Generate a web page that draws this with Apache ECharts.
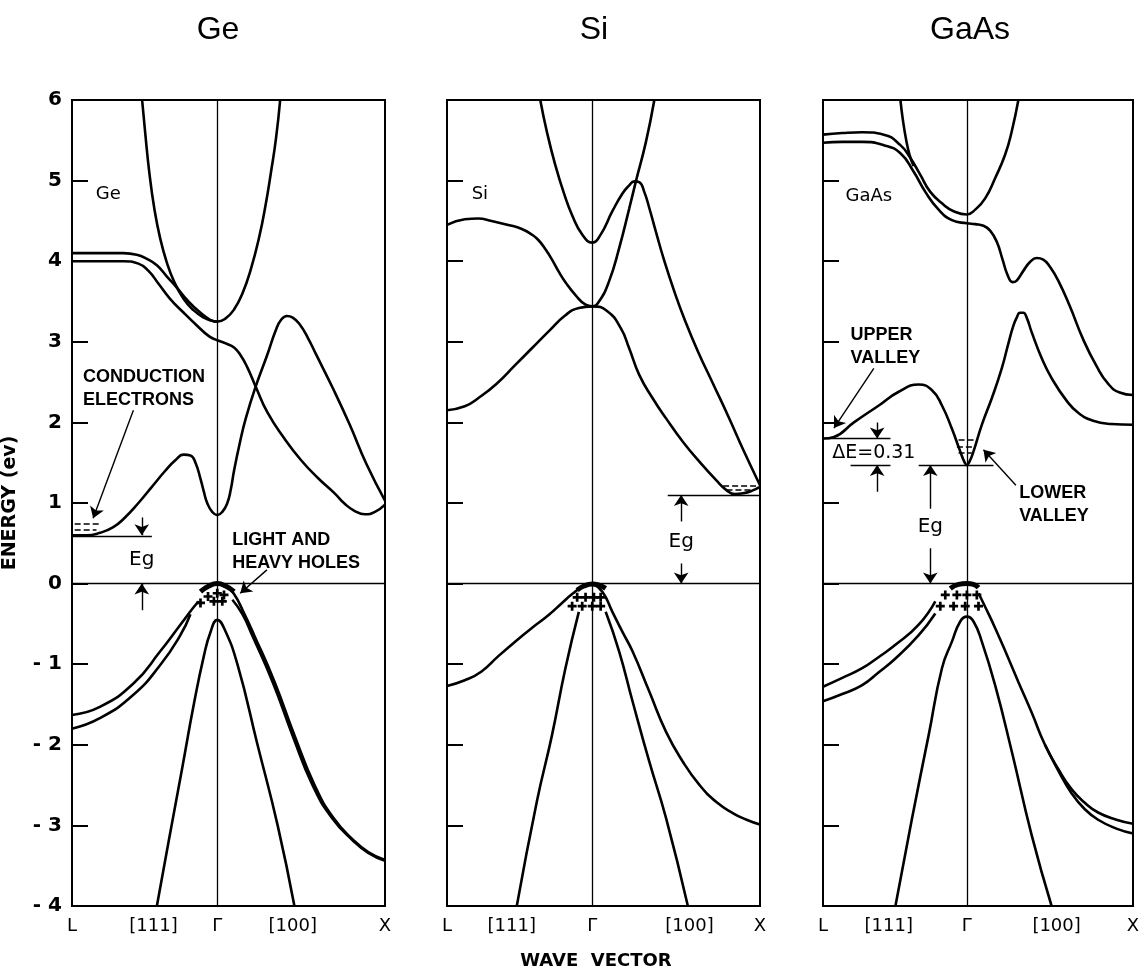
<!DOCTYPE html>
<html lang="en">
<head>
<meta charset="UTF-8">
<title>Ge Si GaAs band structure</title>
<style>html,body{margin:0;padding:0;background:#fff;}</style>
</head>
<body>
<div id="main" style="width:1146px;height:974px;"></div>
<script src="https://cdn.jsdelivr.net/npm/echarts@6/dist/echarts.min.js"></script>
<script>
// wave vector k: L = -0.866, Gamma = 0, X = 1 ; energy in eV
var panelNames = ['Ge', 'Si', 'GaAs'];
var kTickNames = ['L', '[111]', 'Γ', '[100]', 'X'];
var geTickK = [-0.866, -0.38, 0, 0.45, 1];
var siTickK = [-0.866, -0.48, 0, 0.58, 1];
var gaTickK = [-0.866, -0.47, 0, 0.54, 1];

// ---- Ge ----
var geUpper = [[-0.448,6],[-0.43,5.6],[-0.405,5.1],[-0.375,4.65],[-0.34,4.28],[-0.3,3.98],[-0.26,3.76],[-0.2,3.53],[-0.14,3.39],[-0.08,3.3],[-0.03,3.26],[0,3.25],[0.05,3.29],[0.1,3.4],[0.15,3.6],[0.2,3.9],[0.25,4.3],[0.29,4.72],[0.32,5.1],[0.35,5.52],[0.375,6]];
var geFlatHigh = [[-0.866,4.1],[-0.7,4.1],[-0.56,4.1],[-0.48,4.08],[-0.42,4.03],[-0.36,3.95],[-0.3,3.81],[-0.24,3.67],[-0.18,3.52],[-0.1,3.36],[-0.04,3.27],[0,3.25]];
var geFlatLow = [[-0.866,4.0],[-0.7,4.0],[-0.56,4.0],[-0.47,3.97],[-0.41,3.88],[-0.35,3.72],[-0.28,3.53],[-0.2,3.36],[-0.12,3.2],[-0.05,3.07],[0,3.02],[0.05,2.98],[0.1,2.93],[0.14,2.83],[0.18,2.68],[0.23,2.44],[0.3,2.12],[0.4,1.8],[0.5,1.53],[0.6,1.31],[0.7,1.12],[0.76,0.99],[0.82,0.9],[0.88,0.86],[0.94,0.89],[1.0,0.98]];
var geLowest = [[-0.866,0.6],[-0.78,0.6],[-0.7,0.63],[-0.62,0.7],[-0.55,0.82],[-0.47,1.0],[-0.39,1.2],[-0.31,1.4],[-0.25,1.53],[-0.2,1.6],[-0.16,1.59],[-0.13,1.5],[-0.1,1.3],[-0.08,1.14],[-0.06,1.0],[-0.03,0.89],[0,0.85],[0.03,0.89],[0.06,1.0],[0.08,1.16],[0.1,1.4],[0.135,1.75],[0.17,2.05],[0.23,2.45],[0.295,2.82],[0.35,3.15],[0.38,3.27],[0.415,3.32],[0.45,3.3],[0.49,3.22],[0.54,3.05],[0.59,2.84],[0.69,2.42],[0.79,1.97],[0.89,1.48],[1.0,1.03]];
var geVbLeftA = [[-0.866,-1.63],[-0.7,-1.53],[-0.5,-1.24],[-0.34,-0.84],[-0.22,-0.51],[-0.14,-0.29],[-0.11,-0.22]];
var geVbLeftB = [[-0.866,-1.8],[-0.7,-1.67],[-0.5,-1.38],[-0.34,-1.01],[-0.22,-0.64],[-0.16,-0.38]];
var geVbRightA = [[0,0],[0.05,-0.03],[0.1,-0.13],[0.16,-0.37],[0.22,-0.64],[0.34,-1.21],[0.46,-1.88],[0.58,-2.5],[0.69,-2.9],[0.81,-3.18],[0.9,-3.33],[1.0,-3.43]];
var geVbRightB = [[0.09,-0.2],[0.15,-0.38],[0.21,-0.65],[0.33,-1.22],[0.45,-1.89],[0.57,-2.51],[0.685,-2.91],[0.81,-3.19],[0.9,-3.34],[1.0,-3.44]];
var geSplitOff = [[-0.36,-4],[-0.29,-3.2],[-0.21,-2.3],[-0.14,-1.5],[-0.08,-0.9],[-0.04,-0.6],[0,-0.45],[0.04,-0.55],[0.12,-1],[0.24,-2],[0.36,-3],[0.46,-4]];
var geCap = [[-0.1,-0.1],[-0.05,-0.03],[0,0],[0.05,-0.03],[0.1,-0.1]];
var geHoles = [[-0.055,-0.16],[0,-0.12],[0.04,-0.14],[-0.02,-0.22],[0.03,-0.22],[-0.1,-0.24]];

// ---- Si ----
var siBandA = [[-0.31,6],[-0.27,5.6],[-0.22,5.19],[-0.17,4.85],[-0.12,4.57],[-0.06,4.33],[0,4.23],[0.05,4.33],[0.12,4.62],[0.18,4.84],[0.22,4.94],[0.25,4.99],[0.28,4.98],[0.31,4.86],[0.34,4.66],[0.38,4.36],[0.43,4.0],[0.49,3.62],[0.55,3.28],[0.63,2.88],[0.72,2.48],[0.81,2.08],[0.9,1.66],[1.0,1.22]];
var siBandB = [[-0.866,4.45],[-0.76,4.52],[-0.68,4.53],[-0.6,4.5],[-0.5,4.45],[-0.42,4.4],[-0.36,4.33],[-0.32,4.26],[-0.28,4.15],[-0.24,4.02],[-0.2,3.87],[-0.16,3.74],[-0.1,3.58],[-0.04,3.46],[0,3.44],[0.04,3.5],[0.1,3.75],[0.16,4.16],[0.22,4.65],[0.26,4.99],[0.32,5.48],[0.37,6]];
var siBandC = [[-0.866,2.15],[-0.76,2.2],[-0.68,2.3],[-0.57,2.48],[-0.46,2.71],[-0.36,2.92],[-0.26,3.13],[-0.16,3.33],[-0.08,3.42],[0,3.44],[0.09,3.38],[0.17,3.17],[0.22,2.92],[0.28,2.59],[0.36,2.3],[0.44,2.05],[0.54,1.76],[0.64,1.51],[0.74,1.28],[0.8,1.16],[0.85,1.11],[0.9,1.12],[0.95,1.15],[1.0,1.2]];
var siVbLeft = [[-0.866,-1.27],[-0.76,-1.2],[-0.66,-1.09],[-0.56,-0.9],[-0.46,-0.72],[-0.36,-0.55],[-0.26,-0.39],[-0.18,-0.24],[-0.12,-0.13],[-0.06,-0.04],[0,0]];
var siVbRight = [[0,0],[0.06,-0.1],[0.12,-0.35],[0.18,-0.6],[0.24,-0.84],[0.34,-1.34],[0.44,-1.84],[0.54,-2.21],[0.64,-2.5],[0.74,-2.71],[0.84,-2.85],[0.92,-2.93],[1.0,-2.99]];
var siLightLeft = [[-0.45,-4],[-0.33,-2.7],[-0.24,-1.88],[-0.16,-1.05],[-0.08,-0.35]];
var siLightRight = [[0.08,-0.35],[0.16,-0.84],[0.24,-1.46],[0.34,-2.21],[0.44,-2.91],[0.57,-4]];
var siCap = [[-0.09,-0.08],[-0.05,-0.03],[0,-0.005],[0.04,-0.02],[0.08,-0.06]];
var siHoles = [[-0.09,-0.17],[-0.04,-0.17],[0.01,-0.17],[0.05,-0.17],[-0.12,-0.28],[-0.06,-0.28],[0,-0.28],[0.05,-0.28]];

// ---- GaAs ----
var gaBand1 = [[-0.866,5.57],[-0.75,5.59],[-0.63,5.6],[-0.5,5.57],[-0.4,5.44],[-0.34,5.28],[-0.28,5.07],[-0.22,4.86],[-0.14,4.7],[-0.08,4.62],[0,4.58],[0.05,4.64],[0.11,4.78],[0.17,5.03],[0.23,5.32],[0.27,5.61],[0.31,6]];
var gaParabolaLeft = [[-0.40,6],[-0.385,5.75],[-0.365,5.5],[-0.345,5.32],[-0.32,5.18]];
var gaBand2 = [[-0.866,5.47],[-0.75,5.48],[-0.63,5.48],[-0.5,5.44],[-0.4,5.34],[-0.32,5.11],[-0.25,4.86],[-0.17,4.64],[-0.09,4.51],[0,4.47],[0.05,4.46],[0.1,4.44],[0.14,4.38],[0.18,4.24],[0.215,4.02],[0.245,3.83],[0.275,3.74],[0.3,3.76],[0.34,3.88],[0.38,3.99],[0.42,4.04],[0.46,4.02],[0.5,3.93],[0.55,3.76],[0.62,3.44],[0.7,3.03],[0.78,2.7],[0.85,2.48],[0.92,2.37],[1.0,2.34]];
var gaBand3 = [[-0.866,1.8],[-0.8,1.82],[-0.68,2.0],[-0.53,2.21],[-0.41,2.38],[-0.29,2.47],[-0.21,2.4],[-0.15,2.21],[-0.09,1.92],[-0.04,1.64],[-0.015,1.51],[0,1.47],[0.015,1.51],[0.04,1.64],[0.09,1.97],[0.15,2.3],[0.21,2.67],[0.25,2.98],[0.28,3.2],[0.3,3.3],[0.32,3.36],[0.34,3.36],[0.36,3.3],[0.39,3.12],[0.45,2.8],[0.51,2.55],[0.6,2.27],[0.67,2.12],[0.76,2.02],[0.87,1.98],[1.0,1.97]];
var gaVbLeftA = [[-0.866,-1.28],[-0.75,-1.17],[-0.63,-1.05],[-0.53,-0.91],[-0.43,-0.76],[-0.29,-0.51],[-0.19,-0.22]];
var gaVbLeftB = [[-0.866,-1.46],[-0.75,-1.37],[-0.63,-1.26],[-0.53,-1.1],[-0.43,-0.93],[-0.29,-0.64],[-0.19,-0.37]];
var gaVbRightA = [[0.07,-0.12],[0.12,-0.33],[0.17,-0.55],[0.24,-0.88],[0.31,-1.22],[0.39,-1.6],[0.47,-2.0],[0.55,-2.3],[0.63,-2.55],[0.71,-2.72],[0.79,-2.84],[0.9,-2.93],[1.0,-2.98]];
var gaVbRightB = [[0.47,-2.0],[0.55,-2.32],[0.63,-2.6],[0.71,-2.8],[0.79,-2.93],[0.9,-3.04],[1.0,-3.1]];
var gaSplitOff = [[-0.43,-4],[-0.33,-2.91],[-0.23,-1.88],[-0.15,-1.05],[-0.09,-0.72],[-0.04,-0.47],[0,-0.41],[0.04,-0.47],[0.09,-0.72],[0.17,-1.26],[0.27,-2.08],[0.39,-3.12],[0.51,-4]];
var gaCap = [[-0.1,-0.06],[-0.05,-0.01],[0,0],[0.04,-0.01],[0.07,-0.05]];
var gaHoles = [[-0.13,-0.14],[-0.06,-0.14],[0,-0.14],[0.06,-0.14],[-0.16,-0.28],[-0.08,-0.28],[-0.01,-0.28],[0.07,-0.28]];

// ---- annotations (arrows, rules, dashes, notes) in data units ----
var geArrows = [[[-0.5,2.15],[-0.74,0.81]], [[-0.45,0.82],[-0.45,0.6]], [[-0.45,-0.33],[-0.45,0]], [[0.296,0.17],[0.137,-0.12]]];
var geRules = [[[-0.866,0.59],[-0.39,0.59]]];
var geDashes = [[[-0.85,0.74],[-0.69,0.74]], [[-0.85,0.67],[-0.72,0.67]]];
var geNotes = [
  {name: 'Ge', value: [-0.65, 4.83], label: {fontFamily: 'DejaVu Sans', fontWeight: 'normal'}},
  {name: 'CONDUCTION\nELECTRONS', value: [-0.80, 2.42], label: {align: 'left'}},
  {name: 'Eg', value: [-0.45, 0.3], label: {fontFamily: 'DejaVu Sans', fontSize: 20, fontWeight: 'normal'}},
  {name: 'LIGHT AND\nHEAVY HOLES', value: [0.09, 0.40], label: {align: 'left'}}
];
var siArrows = [[[0.53,0.77],[0.53,1.1]], [[0.53,0.25],[0.53,0]]];
var siRules = [[[0.45,1.1],[1,1.1]]];
var siDashes = [[[0.78,1.22],[0.98,1.22]], [[0.8,1.16],[0.96,1.16]]];
var siNotes = [
  {name: 'Si', value: [-0.67, 4.83], label: {fontFamily: 'DejaVu Sans', fontWeight: 'normal'}},
  {name: 'Eg', value: [0.53, 0.52], label: {fontFamily: 'DejaVu Sans', fontSize: 20, fontWeight: 'normal'}}
];
var gaArrows = [[[-0.56,2.67],[-0.8,1.93]], [[-0.54,2.0],[-0.54,1.8]], [[-0.54,1.14],[-0.54,1.47]], [[-0.22,0.93],[-0.22,1.47]], [[-0.22,0.44],[-0.22,0]], [[0.295,1.22],[0.1,1.66]]];
var gaRules = [[[-0.866,1.8],[-0.46,1.8]], [[-0.7,1.47],[-0.46,1.47]], [[-0.29,1.47],[0.16,1.47]]];
var gaDashes = [[[-0.05,1.78],[0.05,1.78]], [[-0.06,1.7],[0.04,1.7]], [[-0.05,1.62],[0.03,1.62]]];
var gaNotes = [
  {name: 'GaAs', value: [-0.59, 4.8], label: {fontFamily: 'DejaVu Sans', fontWeight: 'normal'}},
  {name: 'UPPER\nVALLEY', value: [-0.7, 2.94], label: {align: 'left'}},
  {name: 'ΔE=0.31', value: [-0.56, 1.62], label: {fontFamily: 'DejaVu Sans', fontSize: 19, fontWeight: 'normal'}},
  {name: 'Eg', value: [-0.22, 0.71], label: {fontFamily: 'DejaVu Sans', fontSize: 20, fontWeight: 'normal'}},
  {name: 'LOWER\nVALLEY', value: [0.315, 0.985], label: {align: 'left'}}
];

var myChart = echarts.init(document.getElementById('main'));
var FONT = 'DejaVu Sans';
var plusPath = 'path://M3.5,0H6.5V3.5H10V6.5H6.5V10H3.5V6.5H0V3.5H3.5Z';

function curve(g, data, w) {
  return {
    type: 'line', xAxisIndex: g, yAxisIndex: g, data: data,
    symbol: 'none', smooth: 0.5, silent: true,
    lineStyle: {color: '#000', width: w || 2.6}
  };
}

function guides(g) {
  // Gamma vertical and E = 0 horizontal
  var s = curve(g, [], 1);
  s.markLine = {
    silent: true, symbol: ['none', 'none'], label: {show: false},
    lineStyle: {color: '#000', width: 1.3, type: 'solid'},
    data: [{xAxis: 0}, {yAxis: 0}]
  };
  return s;
}

function segs(g, list, arrow, dashed) {
  return {
    type: 'lines', coordinateSystem: 'cartesian2d', xAxisIndex: g, yAxisIndex: g,
    silent: true, symbol: arrow ? ['none', 'arrow'] : ['none', 'none'], symbolSize: 11,
    lineStyle: {color: '#000', width: dashed ? 1.6 : 1.4, opacity: 1, type: dashed ? [6, 3] : 'solid'},
    data: list.map(function (c) { return {coords: c}; })
  };
}

function holes(g, data) {
  return {
    type: 'scatter', xAxisIndex: g, yAxisIndex: g, data: data, silent: true,
    symbol: plusPath, symbolSize: 9, itemStyle: {color: '#000', opacity: 1}
  };
}

function notes(g, data) {
  return {
    type: 'scatter', xAxisIndex: g, yAxisIndex: g, data: data, silent: true,
    symbolSize: 1, itemStyle: {color: 'rgba(0,0,0,0)', opacity: 1},
    label: {
      show: true, position: 'inside', formatter: '{b}', color: '#000',
      fontFamily: 'Liberation Sans', fontSize: 18, fontWeight: 'bold', lineHeight: 23
    }
  };
}

var tickK = [geTickK, siTickK, gaTickK];
var grids = [], xAxes = [], yAxes = [];
var lefts = [71, 447, 823], widths = [314, 313, 310];
for (var i = 0; i < 3; i++) {
  grids.push({left: lefts[i], top: 100, width: widths[i], height: 806,
    show: true, borderColor: '#000', borderWidth: 2, backgroundColor: 'transparent'});
  xAxes.push({
    type: 'value', gridIndex: i, min: -0.866, max: 1,
    axisLine: {show: true, onZero: false, lineStyle: {color: '#000', width: 2}},
    axisTick: {show: false}, splitLine: {show: false},
    axisLabel: {
      customValues: tickK[i], margin: 11, color: '#000', fontFamily: FONT, fontSize: 18,
      formatter: (function (ks) {
        return function (v) {
          var best = 0;
          for (var j = 0; j < ks.length; j++) {
            if (Math.abs(ks[j] - v) < Math.abs(ks[best] - v)) best = j;
          }
          return kTickNames[best];
        };
      })(tickK[i])
    }
  });
  yAxes.push({
    type: 'value', gridIndex: i, min: -4, max: 6, interval: 1,
    axisLine: {show: true, onZero: false, lineStyle: {color: '#000', width: 2}},
    axisTick: {show: true, inside: true, length: 16, lineStyle: {color: '#000', width: 2}},
    splitLine: {show: false},
    axisLabel: {
      show: i === 0, margin: 10, color: '#000', fontFamily: FONT, fontSize: 20, fontWeight: 'bold',
      formatter: function (v) { return v < 0 ? '- ' + (-v) : String(v); }
    },
    name: i === 0 ? 'ENERGY (ev)' : '', nameLocation: 'middle', nameGap: 52, nameRotate: 90,
    nameTextStyle: {color: '#000', fontFamily: FONT, fontSize: 19, fontWeight: 'bold'}
  });
}

var series = [
  guides(0),
  curve(0, geUpper), curve(0, geFlatHigh), curve(0, geFlatLow), curve(0, geLowest),
  curve(0, geVbLeftA), curve(0, geVbLeftB), curve(0, geVbRightA), curve(0, geVbRightB),
  curve(0, geSplitOff), curve(0, geCap, 5), holes(0, geHoles),
  segs(0, geArrows, true), segs(0, geRules), segs(0, geDashes, false, true), notes(0, geNotes),

  guides(1),
  curve(1, siBandA), curve(1, siBandB), curve(1, siBandC),
  curve(1, siVbLeft), curve(1, siVbRight), curve(1, siLightLeft), curve(1, siLightRight),
  curve(1, siCap, 5), holes(1, siHoles),
  segs(1, siArrows, true), segs(1, siRules), segs(1, siDashes, false, true), notes(1, siNotes),

  guides(2),
  curve(2, gaBand1), curve(2, gaParabolaLeft), curve(2, gaBand2), curve(2, gaBand3),
  curve(2, gaVbLeftA), curve(2, gaVbLeftB), curve(2, gaVbRightA), curve(2, gaVbRightB),
  curve(2, gaSplitOff), curve(2, gaCap, 5), holes(2, gaHoles),
  segs(2, gaArrows, true), segs(2, gaRules), segs(2, gaDashes, false, true), notes(2, gaNotes)
];

var titleX = [218, 594, 970];
var graphics = panelNames.map(function (n, i) {
  return {type: 'text', x: titleX[i], y: 30,
    style: {text: n, font: '32px "Liberation Sans"', fill: '#000',
      align: 'center', verticalAlign: 'middle', textAlign: 'center', textVerticalAlign: 'middle'}};
});
graphics.push({type: 'text', x: 596, y: 961,
  style: {text: 'WAVE  VECTOR', font: 'bold 18px "DejaVu Sans"', fill: '#000',
    align: 'center', verticalAlign: 'middle', textAlign: 'center', textVerticalAlign: 'middle'}});

var option = {
  backgroundColor: '#fff',
  animation: false,
  grid: grids,
  xAxis: xAxes,
  yAxis: yAxes,
  graphic: graphics,
  series: series
};

myChart.setOption(option);
</script>
</body>
</html>
